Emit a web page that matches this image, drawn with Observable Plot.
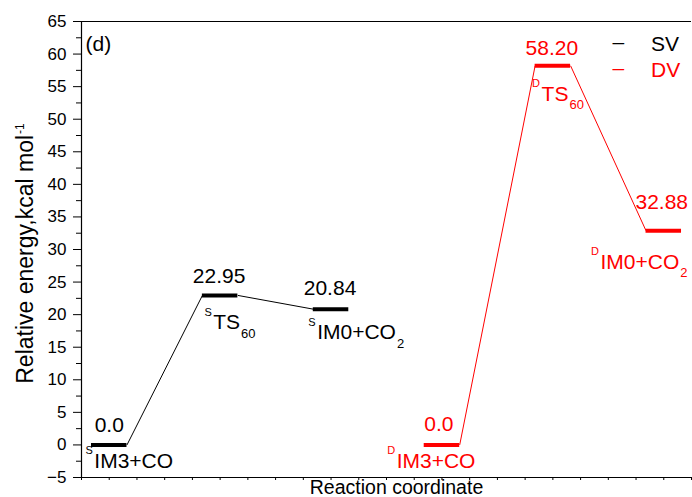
<!DOCTYPE html>
<html><head><meta charset="utf-8">
<script src="https://cdn.jsdelivr.net/npm/d3@7"></script>
<script src="https://cdn.jsdelivr.net/npm/@observablehq/plot@0.6"></script>
<style>
body{margin:0;background:#fff}
#chart svg{display:block}
</style>
</head><body><div id="chart"></div>
<script>
// ---- data ----
const seriesNames = ["SV", "DV"];
const seriesColors = ["#000000", "#ff0000"];
const svPos = [1, 2, 3];
const dvPos = [4, 5, 6];
const svEnergy = [0.0, 22.95, 20.84];
const dvEnergy = [0.0, 58.20, 32.88];
const svValueText = ["0.0", "22.95", "20.84"];
const dvValueText = ["0.0", "58.20", "32.88"];
const seriesSup = ["S", "D"];
const stateMain = ["IM3+CO", "TS", "IM0+CO"];
const stateSub = ["", "60", "2"];
const yTicks = d3.range(-5, 66, 5);
const yMinorTicks = d3.range(-2.5, 65, 5);
const xTicks = d3.range(0.75, 6.26, 0.25);
const xLabel = "Reaction coordinate";
const yLabel = "Relative energy,kcal mol";
const yLabelSup = "-1";
const panelLabel = "(d)";

// ---- tables built from the arrays ----
const HW = 0.16; // half width of an energy level (x units)
function buildLevels(si, pos, energy, vals) {
  return pos.map((x, i) => ({
    series: seriesNames[si], color: seriesColors[si], x, e: energy[i], value: vals[i],
    label: seriesSup[si] + "|" + stateMain[i] + "|" + stateSub[i]
  }));
}
const sv = buildLevels(0, svPos, svEnergy, svValueText);
const dv = buildLevels(1, dvPos, dvEnergy, dvValueText);
const links = s => s.slice(1).map((d, i) => ({x1: s[i].x + HW, y1: s[i].e, x2: d.x - HW, y2: d.e}));

const FONT = "'Liberation Sans', Arial, Helvetica, sans-serif";

function valueMark(s, i, dx, dy) {
  return Plot.text([s[i]], {x: "x", y: "e", text: "value", fill: s[i].color,
    fontSize: 21, lineAnchor: "bottom", textAnchor: "middle", dx, dy});
}
function stateMark(s, i, dx, dy) {
  return Plot.text([s[i]], {x: d => d.x - HW, y: "e", text: "label", fill: s[i].color,
    fontSize: 21, lineAnchor: "bottom", textAnchor: "start", dx, dy});
}

const chart = Plot.plot({
  width: 692, height: 497,
  marginLeft: 81, marginRight: 1, marginTop: 21, marginBottom: 20,
  style: {fontFamily: FONT, background: "#fff", color: "#000"},
  x: {domain: [0.75, 6.25]},
  y: {domain: [-5, 65]},
  marks: [
    Plot.ruleY([65], {stroke: "#000", strokeWidth: 1.2}),
    Plot.ruleY([-5], {stroke: "#000", strokeWidth: 1.2}),
    Plot.ruleX([0.75], {stroke: "#000", strokeWidth: 1.2}),
    Plot.axisY(yTicks, {anchor: "left", tickSize: 8, tickPadding: 7, fontSize: 17, label: null, stroke: "#000", fill: "#000"}),
    Plot.axisY(yMinorTicks, {anchor: "left", tickSize: 5, tickFormat: () => "", label: null, stroke: "#000"}),
    Plot.axisX(xTicks, {anchor: "bottom", tickSize: 3, tickFormat: () => "", label: null, stroke: "#000"}),

    // connectors
    Plot.link(links(sv), {x1: "x1", y1: "y1", x2: "x2", y2: "y2", stroke: seriesColors[0], strokeWidth: 1}),
    Plot.link(links(dv), {x1: "x1", y1: "y1", x2: "x2", y2: "y2", stroke: seriesColors[1], strokeWidth: 1}),
    // levels
    Plot.ruleY(sv, {y: "e", x1: d => d.x - HW, x2: d => d.x + HW, stroke: seriesColors[0], strokeWidth: 4}),
    Plot.ruleY(dv, {y: "e", x1: d => d.x - HW, x2: d => d.x + HW, stroke: seriesColors[1], strokeWidth: 4}),

    // value labels
    valueMark(sv, 0, 0, -12.5),
    valueMark(sv, 1, -1, -12.5),
    valueMark(sv, 2, -1, -14),
    valueMark(dv, 0, -3, -13.5),
    valueMark(dv, 1, -1, -10.7),
    valueMark(dv, 2, -2, -22),

    // state labels
    stateMark(sv, 0, -6, 23),
    stateMark(sv, 1, 2, 34),
    stateMark(sv, 2, -5, 30),
    stateMark(dv, 0, -37, 23),
    stateMark(dv, 1, -3, 35),
    stateMark(dv, 2, -55, 38),

    // legend
    Plot.text(["\u2013"], {text: d => d, frameAnchor: "top-right", dx: -79, dy: 27.4, textAnchor: "start", lineAnchor: "bottom", fontSize: 21, fill: seriesColors[0]}),
    Plot.text(["\u2013"], {text: d => d, frameAnchor: "top-right", dx: -79, dy: 53.4, textAnchor: "start", lineAnchor: "bottom", fontSize: 21, fill: seriesColors[1]}),
    Plot.text([seriesNames[0]], {text: d => d, frameAnchor: "top-right", dx: -40.5, dy: 29, textAnchor: "start", lineAnchor: "bottom", fontSize: 21, fill: seriesColors[0]}),
    Plot.text([seriesNames[1]], {text: d => d, frameAnchor: "top-right", dx: -40.5, dy: 55, textAnchor: "start", lineAnchor: "bottom", fontSize: 21, fill: seriesColors[1]}),

    // panel label
    Plot.text([panelLabel], {text: d => d, frameAnchor: "top-left", dx: 4, dy: 29.5, textAnchor: "start", lineAnchor: "bottom", fontSize: 21, fill: "#000"}),
    // axis titles
    Plot.text([xLabel], {text: d => d, frameAnchor: "bottom", dx: 10, dy: 16, lineAnchor: "bottom", fontSize: 19.5, fill: "#000"}),
    Plot.text([yLabel + "^" + yLabelSup], {text: d => d, frameAnchor: "left", dx: -49, dy: 4, rotate: -90, lineAnchor: "bottom", textAnchor: "middle", fontSize: 23, fill: "#000"})
  ]
});

// superscripts / subscripts as real tspans
d3.select(chart).selectAll("text").each(function () {
  const t = this.textContent;
  const sel = d3.select(this);
  if (t.includes("|")) {
    const [sup, main, sub] = t.split("|");
    sel.text(null);
    sel.append("tspan").attr("font-size", 11).attr("dy", -13.5).text(sup);
    sel.append("tspan").attr("dy", 13.5).attr("dx", 1.5).text(main);
    if (sub) sel.append("tspan").attr("font-size", 13).attr("dy", 8.5).attr("dx", 1).text(sub);
  } else if (t.includes("^")) {
    const [main, sup] = t.split("^");
    sel.text(null);
    sel.append("tspan").text(main);
    sel.append("tspan").attr("font-size", 12).attr("dy", -9).attr("dx", 1).text(sup);
  }
});

document.getElementById("chart").appendChild(chart);
</script>
</body></html>
